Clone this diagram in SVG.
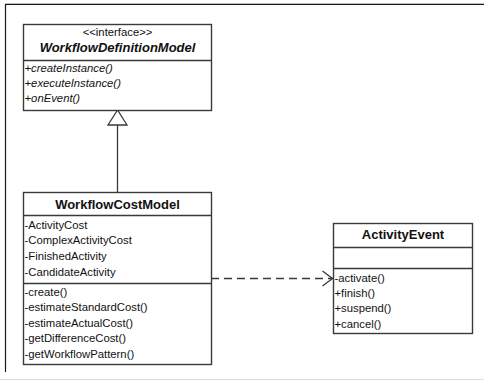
<svg xmlns="http://www.w3.org/2000/svg" width="484" height="381" viewBox="0 0 484 381">
  <style>
    .box { fill: #ffffff; stroke: #3a3a3a; stroke-width: 1.4; }
    .sep { stroke: #3a3a3a; stroke-width: 1.4; }
    text { font-family: "Liberation Sans", Arial, sans-serif; font-size: 11.3px; fill: #111; }
    .title { font-weight: bold; font-size: 13px; text-anchor: middle; }
    .ital { font-style: italic; }
    .center { text-anchor: middle; }
    .edge { fill: none; stroke: #3a3a3a; stroke-width: 1.3; }
  </style>
  <defs>
    <marker id="realize" markerWidth="22" markerHeight="18" refX="10" refY="0.5" orient="auto" markerUnits="userSpaceOnUse" viewBox="-1 -8 22 18">
      <path d="M0,-7 L10,0.5 L0,8" fill="none" stroke="#3a3a3a" stroke-width="1.3"/>
    </marker>
  </defs>

  <rect width="484" height="381" fill="#ffffff"/>
  <!-- frame -->
  <line x1="5" y1="3.5" x2="484" y2="3.5" stroke="#bdbdbd" stroke-width="1"/>
  <line x1="5" y1="4.5" x2="484" y2="4.5" stroke="#1a1a1a" stroke-width="1.2"/>
  <line x1="5.5" y1="4" x2="5.5" y2="372" stroke="#1a1a1a" stroke-width="1.2"/>
  <line x1="0" y1="379.5" x2="484" y2="379.5" stroke="#dcdcdc" stroke-width="1"/>

  <!-- connectors -->
  <g id="connectors">
    <line class="edge" x1="117.5" y1="125" x2="117.5" y2="192"/>
    <polygon points="117.5,110 108,125 127,125" fill="#ffffff" stroke="#3a3a3a" stroke-width="1.3"/>
    <line class="edge" x1="211" y1="278.5" x2="332.5" y2="278.5" stroke-dasharray="8,5" marker-end="url(#realize)"/>
  </g>

  <g id="WorkflowDefinitionModel">
    <rect class="box" x="23.5" y="24.5" width="188" height="86"/>
    <line class="sep" x1="23.5" y1="60.5" x2="211.5" y2="60.5"/>
    <text class="center" x="117.5" y="36">&lt;&lt;interface&gt;&gt;</text>
    <text class="title ital" x="117.5" y="51.5">WorkflowDefinitionModel</text>
    <text class="ital" x="24.5" y="72">+createInstance()</text>
    <text class="ital" x="24.5" y="87">+executeInstance()</text>
    <text class="ital" x="24.5" y="102">+onEvent()</text>
  </g>

  <g id="WorkflowCostModel">
    <rect class="box" x="23.5" y="192.5" width="188" height="172"/>
    <line class="sep" x1="23.5" y1="215.5" x2="211.5" y2="215.5"/>
    <line class="sep" x1="23.5" y1="283.5" x2="211.5" y2="283.5"/>
    <text class="title" x="117.5" y="209">WorkflowCostModel</text>
    <text x="24.5" y="228.5">-ActivityCost</text>
    <text x="24.5" y="244">-ComplexActivityCost</text>
    <text x="24.5" y="260">-FinishedActivity</text>
    <text x="24.5" y="275.5">-CandidateActivity</text>
    <text x="24.5" y="295.5">-create()</text>
    <text x="24.5" y="311">-estimateStandardCost()</text>
    <text x="24.5" y="326.5">-estimateActualCost()</text>
    <text x="24.5" y="342">-getDifferenceCost()</text>
    <text x="24.5" y="357.5">-getWorkflowPattern()</text>
  </g>

  <g id="ActivityEvent">
    <rect class="box" x="333.5" y="223.5" width="139" height="110"/>
    <line class="sep" x1="333.5" y1="247.5" x2="472.5" y2="247.5"/>
    <line class="sep" x1="333.5" y1="268.5" x2="472.5" y2="268.5"/>
    <text class="title" x="403" y="239">ActivityEvent</text>
    <text x="334.5" y="282">-activate()</text>
    <text x="334.5" y="297">+finish()</text>
    <text x="334.5" y="312">+suspend()</text>
    <text x="334.5" y="327.5">+cancel()</text>
  </g>
</svg>
